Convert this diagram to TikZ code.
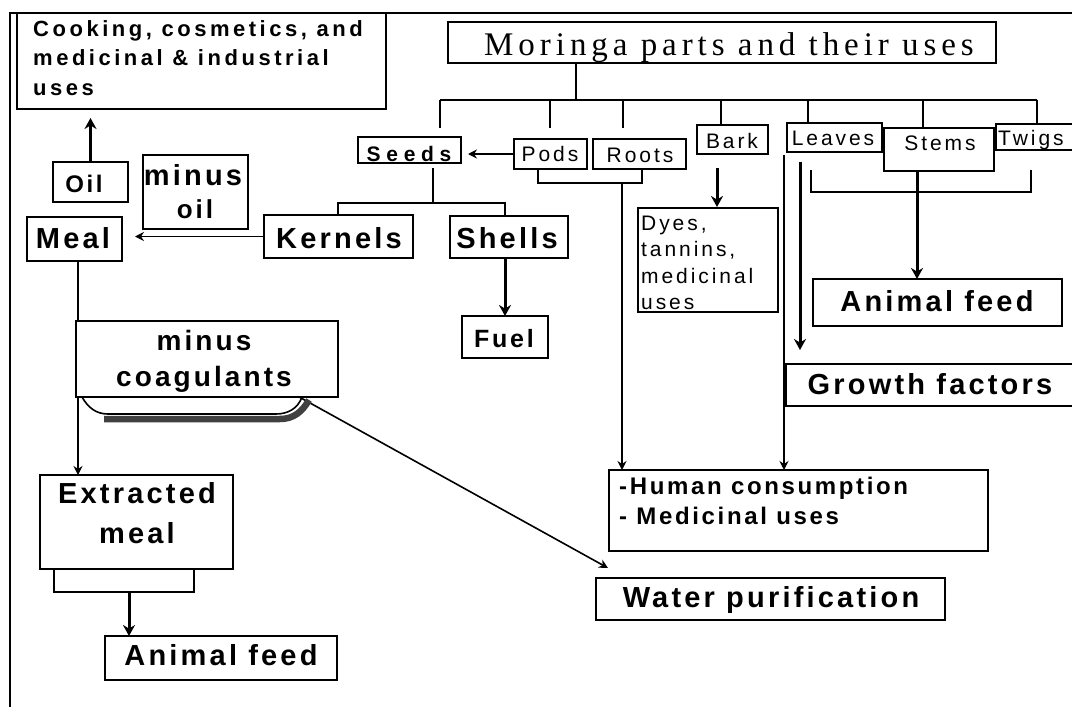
\documentclass[tikz,border=0pt]{standalone}
\usepackage{fontspec}
\usetikzlibrary{arrows.meta}
\newfontfamily\fBig{Liberation Sans}[LetterSpace=11]
\newfontfamily\fCook{Liberation Sans}[LetterSpace=16]
\newfontfamily\fReg{Liberation Sans}[LetterSpace=14]
\newfontfamily\fSeeds{Liberation Sans}[LetterSpace=27]
\newfontfamily\fTitle{Liberation Serif}[LetterSpace=15]
\newcommand\mkbox[5]{\node[box, minimum width={(#4)-(#2)}, minimum height={(#5)-(#3)}] (#1) at ({((#2)+(#4))/2},{((#3)+(#5))/2}) {};}
\tikzset{
  box/.style={draw, line width=1.6pt, fill=white, inner sep=0pt, outer sep=0pt},
  thinline/.style={line width=1.6pt},
  thinarrow/.style={line width=1.6pt, -{Stealth[length=9pt,width=9pt]}},
  thickarrow/.style={line width=3pt, -{Stealth[length=11pt,width=12pt]}},
  tbig/.style={inner sep=0pt, anchor=base, font={\fBig\bfseries\fontsize{29}{34}\selectfont}},
  tmid/.style={inner sep=0pt, anchor=base west, font={\fBig\bfseries\fontsize{24}{30}\selectfont}},
  tcook/.style={inner sep=0pt, anchor=base west, font={\fCook\bfseries\fontsize{22}{30}\selectfont}},
  treg/.style={inner sep=0pt, anchor=base, font={\fReg\fontsize{21}{26}\selectfont}},
}
\begin{document}
\begin{tikzpicture}[x=1pt,y=-1pt]
\useasboundingbox (0,0) rectangle (1072,707);
\fill[white] (0,0) rectangle (1072,707);
% frame
\draw[line width=1.6pt] (10,707) -- (10,13) -- (1072,13);
% connectors
\coordinate (trunk) at (576,100);
\coordinate (busL) at (440,100);
\coordinate (busR) at (1037,100);
\draw[thinline] (busL) -- (busR);
\foreach \x/\y in {440/128, 550/128, 623/128, 721/125, 808/123, 923/128, 1037/125}
  \draw[thinline] (\x,100) -- (\x,\y);
\coordinate (sj) at (433,203);
\draw[thinline] (433,168) -- (sj);
\draw[thinline] (338,216) -- (338,203) -- (505,203) -- (505,217);
\draw[thinline] (538,169) -- (538,183) -- (642,183) -- (642,169);
\draw[thinarrow] (622,183) -- (622,470);
\draw[thickarrow] (717,168) -- (717,207);
\draw[thinarrow] (784,155) -- (784,470);
\draw[thickarrow] (800,162) -- (800,350);
\draw[thinline] (811,170) -- (811,192) -- (1031,192) -- (1031,170);
\draw[thickarrow] (917,171) -- (917,279);
\draw[thinarrow] (78,261) -- (78,475);
\draw[thinline] (54,569) -- (54,592) -- (194,592) -- (194,569);
\draw[thickarrow] (129,592) -- (129,636);
\draw[thinarrow] (292,393) -- (608,568);
% shadow under minus coagulants
\draw[line width=6.5pt, black!75] (104,419) -- (280,419) to[out=0,in=-120] (309,400);
\draw[thinline] (82,397) to[out=-60,in=180] (108,414) -- (276,414) to[out=0,in=-110] (302,397);
% boxes
\mkbox{cook}{17}{13}{386}{109}
\mkbox{oil}{53}{162}{128}{202}
\mkbox{minusoil}{143}{155}{248}{229}
\mkbox{meal}{27}{217}{122}{261}
\mkbox{seeds}{358}{137}{461}{163}
\mkbox{kernels}{264}{215}{413}{258}
\mkbox{shells}{450}{216}{568}{258}
\mkbox{fuel}{462}{316}{548}{358}
\mkbox{pods}{514}{139}{587}{169}
\mkbox{roots}{593}{139}{686}{169}
\mkbox{bark}{697}{125}{768}{154}
\mkbox{dyes}{638}{208}{778}{312}
\mkbox{leaves}{787}{123}{882}{152}
\mkbox{stems}{884}{128}{994}{171}
\mkbox{twigs}{996}{124}{1085}{150}
\mkbox{moringa}{448}{22}{996}{63}
\mkbox{afeedR}{813}{279}{1062}{326}
\mkbox{growth}{786}{364}{1085}{406}
\mkbox{human}{609}{470}{988}{551}
\mkbox{water}{596}{578}{945}{620}
\mkbox{minuscoag}{76}{321}{338}{397}
\mkbox{extracted}{40}{475}{233}{569}
\mkbox{afeedL}{105}{636}{337}{680}
% connectors attached to boxes
\draw[thinline] (moringa.south -| trunk) -- (trunk);
\draw[thinarrow, shorten >=7pt] (pods.west) -- (pods.west -| seeds.east);
\draw[thinarrow, shorten >=13pt] (kernels.west) -- (kernels.west -| meal.east);
\draw[thickarrow, shorten >=9pt] (oil.north) -- (oil.north |- cook.south);
\draw[thickarrow] (fuel.north |- shells.south) -- (fuel.north);
% texts
\node[inner sep=0pt, anchor=base, font={\fTitle\fontsize{33}{38}\selectfont}] (tTitle) at (729,55) {Moringa parts and their uses};
\node[tcook] (tCook1) at (33,36) {Cooking, cosmetics, and};
\node[tcook] (tCook2) at (33,65.5) {medicinal \& industrial};
\node[tcook] (tCook3) at (33,95) {uses};
\node[tbig, font={\fBig\bfseries\fontsize{24}{30}\selectfont}] (tOil) at (84,192) {Oil};
\node[tbig] (tMinus1) at (193,185) {minus};
\node[tbig, font={\fBig\bfseries\fontsize{26}{30}\selectfont}] (tMinus2) at (195,218) {oil};
\node[tbig] (tMeal) at (73,248) {Meal};
\node[inner sep=0pt, anchor=base, font={\fSeeds\bfseries\fontsize{21}{24}\selectfont}] (tSeeds) at (409,161) {Seeds};
\node[tbig] (tKernels) at (339,248) {Kernels};
\node[tbig] (tShells) at (507,248) {Shells};
\node[tbig, font={\fBig\bfseries\fontsize{25}{30}\selectfont}] (tFuel) at (504,347) {Fuel};
\node[treg] (tPods) at (550,161) {Pods};
\node[treg] (tRoots) at (640,162) {Roots};
\node[treg] (tBark) at (732,148) {Bark};
\node[treg] (tLeaves) at (833,145) {Leaves};
\node[treg] (tStems) at (940,150) {Stems};
\node[treg, anchor=base west] (tTwigs) at (998,145) {Twigs};
\node[treg, anchor=base west] (tDyes1) at (641,230) {Dyes,};
\node[treg, anchor=base west] (tDyes2) at (641,256.5) {tannins,};
\node[treg, anchor=base west] (tDyes3) at (641,283) {medicinal};
\node[treg, anchor=base west] (tDyes4) at (641,309.5) {uses};
\node[tbig] (tAfeedR) at (937,311) {Animal feed};
\node[tbig] (tGrowth) at (930,394) {Growth factors};
\node[tmid] (tHuman1) at (619,494) {-Human consumption};
\node[tmid] (tHuman2) at (619,524) {- Medicinal uses};
\node[tbig] (tWater) at (771,607) {Water purification};
\node[tbig, font={\fBig\bfseries\fontsize{28}{34}\selectfont}] (tCoag1) at (204,350) {minus};
\node[tbig, font={\fBig\bfseries\fontsize{28}{34}\selectfont}] (tCoag2) at (204,386) {coagulants};
\node[tbig] (tExtr1) at (137,503) {Extracted};
\node[tbig] (tExtr2) at (137,543) {meal};
\node[tbig] (tAfeedL) at (221,665) {Animal feed};
\end{tikzpicture}
\end{document}
